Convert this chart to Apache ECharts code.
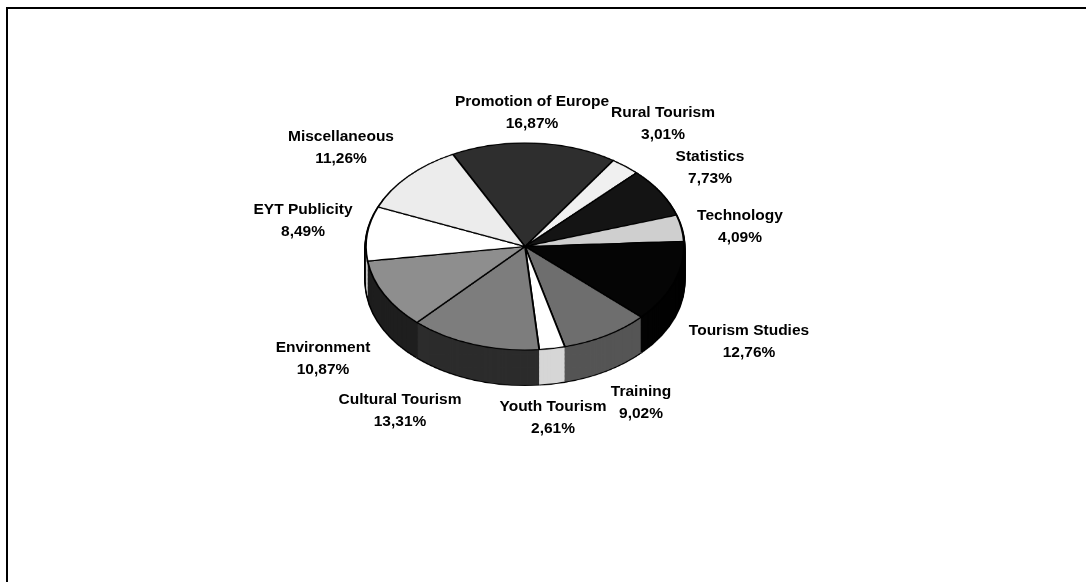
<!DOCTYPE html>
<html><head><meta charset="utf-8">
<script src="https://cdn.jsdelivr.net/npm/echarts@6/dist/echarts.min.js"></script>
<style>
html,body{margin:0;padding:0;background:#fff;overflow:hidden}
#wrap{position:relative;width:1086px;height:582px;background:#fff}
#pie{position:absolute;left:0;top:0;width:1086px;height:700px;transform:scaleY(0.651);transform-origin:0 0}
#labels{position:absolute;left:0;top:0;width:1086px;height:582px}
</style></head><body>
<div id="wrap"><div id="pie"></div><div id="labels"></div></div>
<script>
// ---- data ----
const categories = ['Promotion of Europe','Rural Tourism','Statistics','Technology','Tourism Studies','Training','Youth Tourism','Cultural Tourism','Environment','EYT Publicity','Miscellaneous'];
const values = [16.87, 3.01, 7.73, 4.09, 12.76, 9.02, 2.61, 13.31, 10.87, 8.49, 11.26];

// ---- styles ----
const topColors  = ['#2e2e2e','#f0f0f0','#141414','#cfcfcf','#050505','#6e6e6e','#ffffff','#7d7d7d','#8e8e8e','#ffffff','#ececec'];
const sideColors = ['#1c1c1c','#bdbdbd','#0a0a0a','#9a9a9a','#020202','#555555','#d6d6d6','#2c2c2c','#1e1e1e','#c8c8c8','#b0b0b0'];
const labelPos = [[532,112.5],[663,124],[710,168],[740,227],[749,341.5],[641,403],[553,418],[400,410.5],[323,358.5],[303,221],[341,148]];

const SCALE = 0.651, CX = 525, CY = 246.5 / SCALE, R = 159, DEPTH = 35 / SCALE, START = 117;

function pieSeries(cy, radius, colors, border) {
  return {
    type: 'pie', silent: true, animation: false, clockwise: true, startAngle: START,
    center: [CX, cy], radius: radius, avoidLabelOverlap: false,
    label: {show: false}, labelLine: {show: false}, emphasis: {disabled: true},
    data: categories.map((c, i) => ({
      name: c, value: values[i],
      itemStyle: {color: Array.isArray(colors) ? colors[i] : colors, borderColor: '#000', borderWidth: border}
    }))
  };
}

const series = [];
const steps = [];
for (let k = DEPTH; k > 0; k -= 2) steps.push(k);
steps.forEach(k => series.push(pieSeries(CY + k, R + 1.6, '#000', 0)));
steps.forEach(k => series.push(pieSeries(CY + k, R, sideColors, 0)));
series.push(pieSeries(CY, R, topColors, 1.8));

const pie = echarts.init(document.getElementById('pie'), null, {renderer: 'canvas'});
pie.setOption({animation: false, backgroundColor: 'transparent', series: series});

const fmt = v => v.toFixed(2).replace('.', ',') + '%';
const lab = echarts.init(document.getElementById('labels'), null, {renderer: 'canvas'});
lab.setOption({
  animation: false,
  backgroundColor: 'transparent',
  graphic: [{type: 'rect', silent: true, shape: {x: 7, y: 8, width: 1200, height: 700},
             style: {fill: 'none', stroke: '#000', lineWidth: 2}}],
  series: [{
    type: 'pie', silent: true, clockwise: true, startAngle: START,
    center: [CX, 246.5], radius: R, avoidLabelOverlap: false,
    itemStyle: {color: 'rgba(0,0,0,0)'},
    labelLine: {show: false},
    label: {
      show: true, position: 'outside', color: '#000',
      fontFamily: 'Liberation Sans, Arial, sans-serif', fontWeight: 'bold', fontSize: 15.5, lineHeight: 22,
      align: 'center',
      formatter: p => p.name + '\n' + fmt(p.value)
    },
    labelLayout: p => ({x: labelPos[p.dataIndex][0], y: labelPos[p.dataIndex][1], align: 'center', verticalAlign: 'middle', hideOverlap: false, moveOverlap: null}),
    data: categories.map((c, i) => ({name: c, value: values[i]}))
  }]
});
</script>
</body></html>
